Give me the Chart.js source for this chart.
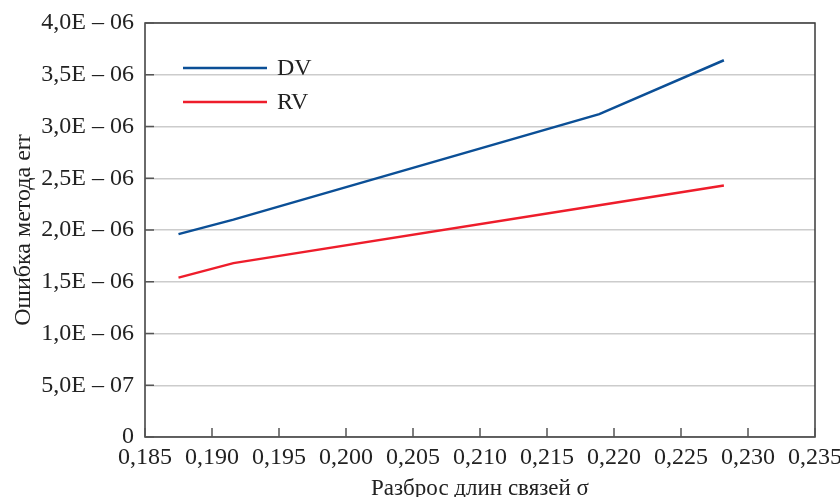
<!DOCTYPE html>
<html>
<head>
<meta charset="utf-8">
<script src="https://cdn.jsdelivr.net/npm/chart.js@4/dist/chart.umd.min.js"></script>
<style>
  html,body{margin:0;padding:0;background:#fff;}
  #wrap{width:840px;height:497px;}
</style>
</head>
<body>
<div id="wrap"><canvas id="chart" width="840" height="497"></canvas></div>
<script>
// ===== Datos =====
const sigma = [0.1875, 0.1916, 0.2189, 0.2282];   // разброс длин связей
const dvErr = [1.96e-6, 2.10e-6, 3.12e-6, 3.64e-6];
const rvErr = [1.54e-6, 1.68e-6, 2.24e-6, 2.43e-6];
const seriesNames = ['DV', 'RV'];
const xTitle = 'Разброс длин связей σ';
const yTitle = 'Ошибка метода err';

const FONT = "'Liberation Serif','Times New Roman',serif";
const colors = ['#0b4f96', '#ee1d2b'];

function fmtY(v){
  if(Math.abs(v) < 1e-12) return '0';
  const [m, e] = v.toExponential(1).split('e');
  const ex = parseInt(e,10);
  return m.replace('.', ',') + 'E – ' + String(Math.abs(ex)).padStart(2,'0');
}
function fmtX(v){ return v.toFixed(3).replace('.', ','); }

// marco + marcas interiores
const framePlugin = {
  id:'frame',
  afterDatasetsDraw(chart){
    const {ctx, chartArea:{left,right,top,bottom}, scales:{x,y}} = chart;
    ctx.save();
    ctx.strokeStyle = '#3a3a3a';
    ctx.lineWidth = 1.5;
    ctx.strokeRect(left, top, right-left, bottom-top);
    ctx.strokeStyle = '#555';
    y.ticks.forEach(t=>{
      const py = y.getPixelForValue(t.value);
      ctx.beginPath(); ctx.moveTo(left, py); ctx.lineTo(left+9, py); ctx.stroke();
    });
    x.ticks.forEach(t=>{
      const px = x.getPixelForValue(t.value);
      ctx.beginPath(); ctx.moveTo(px, bottom); ctx.lineTo(px, bottom-9); ctx.stroke();
    });
    ctx.restore();
  }
};

// leyenda dentro del área
const legendPlugin = {
  id:'innerLegend',
  afterDraw(chart){
    const {ctx} = chart;
    ctx.save();
    ctx.font = '24px ' + FONT;
    ctx.textBaseline = 'middle';
    chart.data.datasets.forEach((d,i)=>{
      const yy = 68 + i*34;
      ctx.strokeStyle = d.borderColor;
      ctx.lineWidth = 2.5;
      ctx.beginPath(); ctx.moveTo(183, yy); ctx.lineTo(267, yy); ctx.stroke();
      ctx.fillStyle = '#222';
      ctx.fillText(d.label, 277, yy + 1);
    });
    ctx.restore();
  }
};

const mk = (arr) => sigma.map((s,i)=>({x:s, y:arr[i]}));

new Chart(document.getElementById('chart').getContext('2d'), {
  type:'line',
  data:{
    datasets:[
      {label:seriesNames[0], data:mk(dvErr), borderColor:colors[0], borderWidth:2.5, pointRadius:0, tension:0, fill:false},
      {label:seriesNames[1], data:mk(rvErr), borderColor:colors[1], borderWidth:2.5, pointRadius:0, tension:0, fill:false}
    ]
  },
  options:{
    responsive:false,
    animation:false,
    layout:{padding:{top:23, right:25, left:0, bottom:0}},
    plugins:{legend:{display:false}, tooltip:{enabled:false}},
    scales:{
      x:{
        type:'linear', min:0.185, max:0.235,
        afterBuildTicks(s){ s.ticks = []; for(let i=0;i<=10;i++) s.ticks.push({value: +(0.185 + i*0.005).toFixed(3)}); },
        ticks:{callback:fmtX, color:'#222', font:{family:FONT, size:24}, padding:6, maxRotation:0, autoSkip:false},
        grid:{display:false, drawTicks:false},
        border:{display:false},
        title:{display:true, text:xTitle, color:'#222', font:{family:FONT, size:23}, padding:{top:4, bottom:-6}},
        afterFit(s){ s.height = 60; s.paddingLeft = 0; s.paddingRight = 0; }
      },
      y:{
        min:0, max:4e-6,
        afterBuildTicks(s){ s.ticks = []; for(let i=0;i<=8;i++) s.ticks.push({value: i*0.5e-6}); },
        ticks:{callback:fmtY, color:'#222', font:{family:FONT, size:24}, padding:11},
        grid:{color:'#cccccc', lineWidth:1.5, drawTicks:false},
        border:{display:false},
        title:{display:true, text:yTitle, color:'#222', font:{family:FONT, size:24}, padding:{top:9, bottom:4}},
        afterFit(s){ s.width = 145; s.paddingTop = 0; s.paddingBottom = 0; }
      }
    }
  },
  plugins:[framePlugin, legendPlugin]
});
</script>
</body>
</html>
